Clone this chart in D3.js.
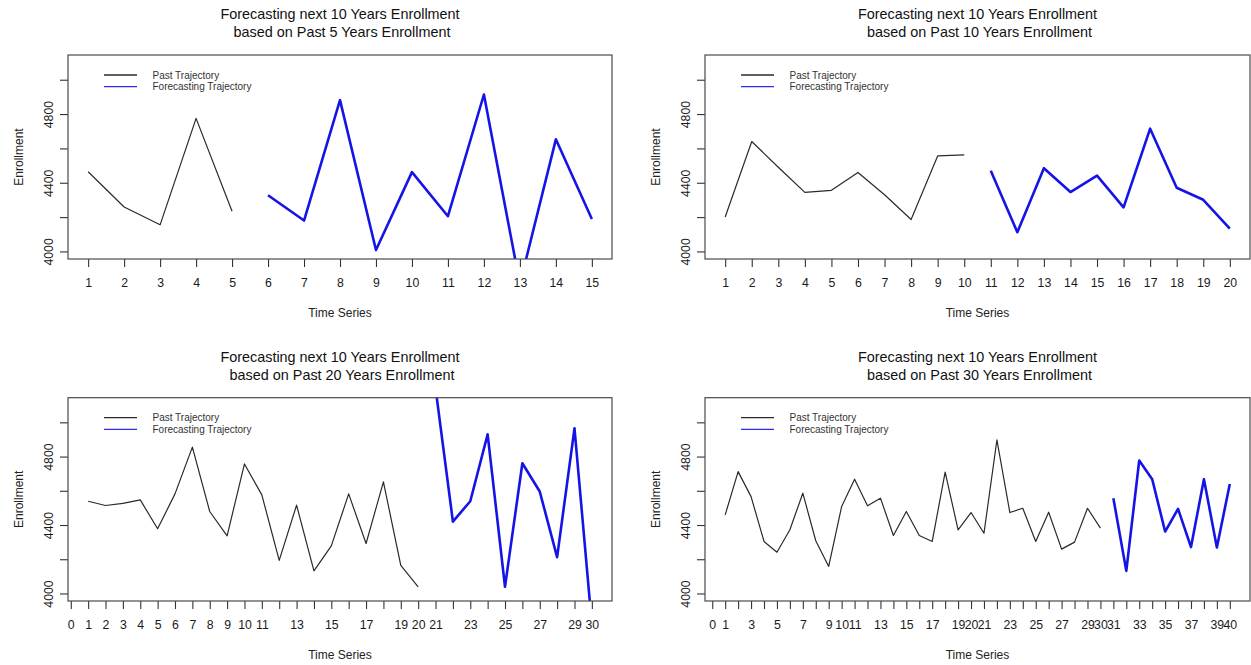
<!DOCTYPE html>
<html>
<head>
<meta charset="utf-8">
<script src="https://cdn.jsdelivr.net/npm/d3@7"></script>
<style>
  html, body { margin: 0; padding: 0; background: #fff; }
  svg { display: block; font-family: "Liberation Sans", Arial, sans-serif; }
  text { white-space: pre; }
</style>
</head>
<body>
<svg id="chart" width="1251" height="665"></svg>
<script>
// Enrollment: observed history (black) and 10-year forecast (blue)
const past5 = [4464, 4259, 4155, 4775, 4234];
const forecast5 = [4327, 4180, 4881, 4008, 4462, 4205, 4914, 3810, 4653, 4189];

const past10 = [4201, 4640, 4490, 4344, 4356, 4460, 4330, 4186, 4556, 4562];
const forecast10 = [4470, 4112, 4485, 4346, 4442, 4257, 4715, 4371, 4301, 4133];

const past20 = [4539, 4514, 4526, 4547, 4378, 4582, 4855, 4479, 4337, 4757,
                4576, 4193, 4516, 4132, 4278, 4582, 4292, 4652, 4164, 4039];
const forecast20 = [5200, 4420, 4539, 4930, 4039, 4761, 4596, 4212, 4965, 3820];

const past30 = [4459, 4712, 4566, 4304, 4241, 4372, 4586, 4308, 4158, 4508,
                4668, 4512, 4557, 4339, 4479, 4339, 4304, 4709, 4372, 4473,
                4352, 4897, 4473, 4498, 4304, 4475, 4259, 4300, 4498, 4382];
const forecast30 = [4557, 4132, 4777, 4668, 4362, 4494, 4271, 4668, 4269, 4640];

const mainTitle = "Forecasting next 10 Years Enrollment";
const subTitles = [" based on Past 5 Years Enrollment", " based on Past 10 Years Enrollment",
                   " based on Past 20 Years Enrollment", " based on Past 30 Years Enrollment"];

const legendLabels = ["Past Trajectory", "Forecasting Trajectory"];
const xTitle = "Time Series";
const yTitle = "Enrollment";

const yLimits = [4000, 5100];
const yTicks = [4000, 4200, 4400, 4600, 4800, 5000];
const yLabels = ["4000", "", "4400", "", "4800", ""];

const xLabels5 = ["1","2","3","4","5","6","7","8","9","10","11","12","13","14","15"];
const xLabels10 = ["1","2","3","4","5","6","7","8","9","10","11","12","13","14","15",
                   "16","17","18","19","20"];
const xLabels20 = ["0","1","2","3","4","5","6","7","8","9","10","11","","13","","15","",
                   "17","","19","20","21","","23","","25","","27","","29","30"];
const xLabels30 = ["0","1","","3","","5","","7","","9","10","11","","13","","15","",
                   "17","","19","20","21","","23","","25","","27","","29","30","31","",
                   "33","","35","","37","","39","40"];

// panel frames (plot regions)
const panels = [
  { past: past5,  fc: forecast5,  sub: subTitles[0], labels: xLabels5,  first: 1, left: 68,  top: 55,    right: 612,  bottom: 259 },
  { past: past10, fc: forecast10, sub: subTitles[1], labels: xLabels10, first: 1, left: 705, top: 55,    right: 1250, bottom: 259 },
  { past: past20, fc: forecast20, sub: subTitles[2], labels: xLabels20, first: 0, left: 68,  top: 397.7, right: 612,  bottom: 601 },
  { past: past30, fc: forecast30, sub: subTitles[3], labels: xLabels30, first: 0, left: 705, top: 397.7, right: 1250, bottom: 601 }
];

const svg = d3.select("#chart");
const expand = (a, b) => { const d = (b - a) * 0.04; return [a - d, b + d]; };

panels.forEach((p, i) => {
  const n = p.past.length, m = p.fc.length;
  const x = d3.scaleLinear().domain(expand(1, n + m)).range([p.left, p.right]);
  const y = d3.scaleLinear().domain(expand(yLimits[0], yLimits[1])).range([p.bottom, p.top]);
  const g = svg.append("g");
  const cx = (p.left + p.right) / 2;

  // titles
  g.append("text").attr("x", cx).attr("y", p.top - 36).attr("text-anchor", "middle")
    .attr("font-size", 14.4).attr("fill", "#111").text(mainTitle);
  g.append("text").attr("x", cx).attr("y", p.top - 18).attr("text-anchor", "middle")
    .attr("font-size", 14.4).attr("fill", "#111").text(p.sub);

  // clip for the data lines
  const clipId = "clip" + i;
  svg.append("clipPath").attr("id", clipId).append("rect")
    .attr("x", p.left).attr("y", p.top).attr("width", p.right - p.left).attr("height", p.bottom - p.top);

  const line = d3.line().x(d => x(d[0])).y(d => y(d[1]));
  const pastPts = p.past.map((v, k) => [k + 1, v]);
  const fcPts = p.fc.map((v, k) => [n + k + 1, v]);

  g.append("path").datum(pastPts).attr("clip-path", `url(#${clipId})`)
    .attr("d", line).attr("fill", "none").attr("stroke", "#2a2a2a").attr("stroke-width", 1.2)
    .attr("stroke-linejoin", "round");
  g.append("path").datum(fcPts).attr("clip-path", `url(#${clipId})`)
    .attr("d", line).attr("fill", "none").attr("stroke", "#1414e6").attr("stroke-width", 2.6)
    .attr("stroke-linejoin", "round");

  // x axis
  const xTickVals = p.labels.map((_, k) => k + p.first);
  const xa = g.append("g").attr("transform", `translate(0,${p.bottom})`)
    .call(d3.axisBottom(x).tickValues(xTickVals).tickSize(8)
      .tickFormat(v => p.labels[v - p.first]));
  xa.select(".domain").remove();
  xa.selectAll(".tick line").attr("stroke", "#333").attr("stroke-width", 1.1);
  xa.selectAll(".tick text").attr("y", 27.5).attr("dy", null)
    .attr("font-size", 12.3).attr("fill", "#1a1a1a").attr("font-family", null);

  // y axis
  const ya = g.append("g").attr("transform", `translate(${p.left},0)`)
    .call(d3.axisLeft(y).tickValues(yTicks).tickSize(8)
      .tickFormat(v => yLabels[yTicks.indexOf(v)]));
  ya.select(".domain").remove();
  ya.selectAll(".tick line").attr("stroke", "#333").attr("stroke-width", 1.1);
  ya.selectAll(".tick text").attr("x", 0).attr("y", 0).attr("dy", null)
    .attr("transform", "translate(-15,0) rotate(-90)").attr("text-anchor", "middle")
    .attr("font-size", 12.3).attr("fill", "#1a1a1a").attr("font-family", null);

  // plot box
  g.append("rect").attr("x", p.left).attr("y", p.top)
    .attr("width", p.right - p.left).attr("height", p.bottom - p.top)
    .attr("fill", "none").attr("stroke", "#4a4a4a").attr("stroke-width", 1.2);

  // axis titles
  g.append("text").attr("x", cx).attr("y", p.bottom + 58).attr("text-anchor", "middle")
    .attr("font-size", 12).attr("fill", "#222").text(xTitle);
  g.append("text").attr("transform", `translate(${p.left - 45},${(p.top + p.bottom) / 2}) rotate(-90)`)
    .attr("text-anchor", "middle").attr("font-size", 12).attr("fill", "#222").text(yTitle);

  // legend
  const legendColors = ["#2a2a2a", "#2b2bf0"];
  legendLabels.forEach((lab, k) => {
    const ly = p.top + 20 + k * 11.7;
    g.append("line").attr("x1", p.left + 36).attr("x2", p.left + 69).attr("y1", ly).attr("y2", ly)
      .attr("stroke", legendColors[k]).attr("stroke-width", 1.3);
    g.append("text").attr("x", p.left + 84.5).attr("y", ly + 3.5).attr("font-size", 10)
      .attr("fill", "#333").text(lab);
  });
});
</script>
</body>
</html>
